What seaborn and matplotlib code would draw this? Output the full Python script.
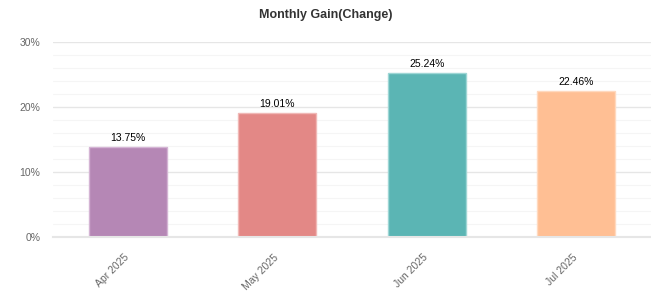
import matplotlib
matplotlib.use("Agg")
import matplotlib.pyplot as plt
import matplotlib.transforms as mtransforms
import seaborn as sns
import pandas as pd
from matplotlib.ticker import MultipleLocator, FuncFormatter

months = ["Apr 2025", "May 2025", "Jun 2025", "Jul 2025"]
gains = [13.75, 19.01, 25.24, 22.46]
colors = ["#B587B5", "#E38886", "#5BB5B4", "#FFBF94"]
edge_colors = ["#D4B4D4", "#F0B8B6", "#9ED6D5", "#FFD9BF"]

df = pd.DataFrame({"month": months, "gain": gains})

sns.set_style("white")
plt.rcParams['font.family'] = ['Liberation Sans', 'DejaVu Sans']

fig = plt.figure(figsize=(6.51, 2.93), dpi=100)
ax = fig.add_axes([0.0814, 0.192, 0.9186, 0.6657])

sns.barplot(data=df, x="month", y="gain", hue="month", palette=colors,
            width=0.52, legend=False, ax=ax, saturation=1)
for p, ec in zip(ax.patches, edge_colors):
    p.set_edgecolor(ec)
    p.set_linewidth(1.0)

ax.set_xlim(-0.5, 3.5)
ax.set_ylim(0, 30)
ax.yaxis.set_major_locator(MultipleLocator(10))
ax.yaxis.set_minor_locator(MultipleLocator(2))
ax.yaxis.set_major_formatter(FuncFormatter(lambda v, _: f"{v:.0f}%"))
ax.grid(axis="y", which="major", color="#E6E6E6", linewidth=1.0)
ax.grid(axis="y", which="minor", color="#F5F5F5", linewidth=0.8)
ax.set_axisbelow(True)

for s in ["top", "right", "left"]:
    ax.spines[s].set_visible(False)
ax.spines["bottom"].set_color("#E6E6E6")
ax.spines["bottom"].set_linewidth(1.5)

ax.tick_params(axis="both", which="both", length=0, labelsize=7.5, labelcolor="#666666")
ax.tick_params(axis="y", pad=9)
ax.tick_params(axis="x", pad=11)
offset = mtransforms.ScaledTranslation(-4 / 100, 0, fig.dpi_scale_trans)
for lab in ax.get_xticklabels():
    lab.set_rotation(45)
    lab.set_ha("right")
    lab.set_rotation_mode("anchor")
    lab.set_transform(lab.get_transform() + offset)

for i, v in enumerate(gains):
    ax.text(i, v + 0.6, f"{v:.2f}%", ha="center", va="bottom", fontsize=7.5, color="#000000")

ax.set_xlabel("")
ax.set_ylabel("")
fig.text(0.5, 0.95, "Monthly Gain(Change)", ha="center", va="center",
         fontsize=9, fontweight="bold", color="#333333")

fig.savefig("out.png", dpi=100)
